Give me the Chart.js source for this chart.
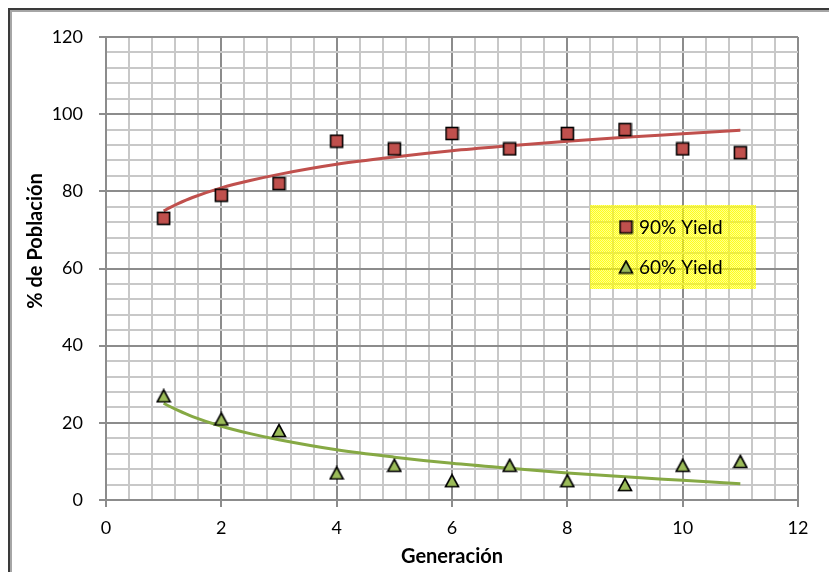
<!DOCTYPE html>
<html>
<head>
<meta charset="utf-8">
<script src="https://cdn.jsdelivr.net/npm/chart.js@4.4.1/dist/chart.umd.min.js"></script>
<style>
    body { margin: 0; background: #fff; }
    #wrap { width: 829px; height: 572px; }
</style>
</head>
<body>
<div id="wrap"><canvas id="yieldChart" width="829" height="572"></canvas></div>
<script>
// generation number and % of population per yield level
const generations = [1, 2, 3, 4, 5, 6, 7, 8, 9, 10, 11];
const yield90 = [73, 79, 82, 93, 91, 95, 91, 95, 96, 91, 90];
const yield60 = [27, 21, 18, 7, 9, 5, 9, 5, 4, 9, 10];

// log trend curves, sampled along x
const trendX = [1, 1.1, 1.25, 1.5, 2, 2.5, 3, 4, 5, 6, 7, 8, 9, 10, 11];
const trend90 = [74.9, 75.7, 76.8, 78.4, 80.9, 82.8, 84.4, 87.0, 88.9, 90.5, 91.8, 93.0, 94.0, 94.9, 95.8];
const trend60 = [25.1, 24.3, 23.2, 21.6, 19.1, 17.2, 15.6, 13.0, 11.1, 9.5, 8.2, 7.0, 6.0, 5.1, 4.2];

const xTickLabels = [0, 2, 4, 6, 8, 10, 12];
const yTickLabels = [0, 20, 40, 60, 80, 100, 120];
const seriesNames = ['90% Yield', '60% Yield'];

const RED = '#c0504d';
const GREEN = '#9bbb59';
const FONT = 'Lato, "Open Sans", sans-serif';

const toPoints = (xs, ys) => xs.map((x, i) => ({x: x, y: ys[i]}));
const isMajor = (v, list) => list.some(t => Math.abs(t - v) < 1e-6);

// marker images, so they sit centred on their value
function squareMarker() {
    const c = document.createElement('canvas');
    c.width = 15; c.height = 15;
    const g = c.getContext('2d');
    g.fillStyle = RED;
    g.fillRect(1.5, 1.5, 12, 12);
    g.lineWidth = 1.6;
    g.strokeStyle = '#000';
    g.strokeRect(1.5, 1.5, 12, 12);
    return c;
}
function triangleMarker() {
    const c = document.createElement('canvas');
    c.width = 16; c.height = 15;
    const g = c.getContext('2d');
    g.fillStyle = GREEN;
    g.strokeStyle = '#000';
    g.lineWidth = 1.6;
    g.lineJoin = 'miter';
    g.beginPath();
    g.moveTo(8, 1.5);
    g.lineTo(14.5, 13.5);
    g.lineTo(1.5, 13.5);
    g.closePath();
    g.fill();
    g.stroke();
    return c;
}
const squareImg = squareMarker();
const triangleImg = triangleMarker();

// outer frame of the chart object, plus the rotated y title
const framePlugin = {
    id: 'frame',
    beforeDraw(chart) {
        const ctx = chart.ctx;
        ctx.save();
        ctx.fillStyle = '#fff';
        ctx.fillRect(0, 0, chart.width, chart.height);
        ctx.strokeStyle = '#a6a6a6';
        ctx.lineWidth = 2;
        ctx.strokeRect(11, 11, 900, 700);
        ctx.strokeStyle = '#3a3a3a';
        ctx.strokeRect(9, 9, 900, 700);
        ctx.restore();
    },
    afterDraw(chart) {
        const ctx = chart.ctx;
        ctx.save();
        ctx.translate(36, 241);
        ctx.rotate(-Math.PI / 2);
        ctx.fillStyle = '#000';
        ctx.font = 'bold 20px ' + FONT;
        ctx.textAlign = 'center';
        ctx.textBaseline = 'middle';
        ctx.fillText('% de Población', 0, 0);
        ctx.restore();
    }
};

// yellow legend box sitting inside the plot
const legendBoxPlugin = {
    id: 'legendBox',
    afterDatasetsDraw(chart) {
        const ctx = chart.ctx;
        const pc = document.createElement('canvas');
        pc.width = 2; pc.height = 2;
        const p = pc.getContext('2d');
        p.fillStyle = 'rgba(255,255,0,0.45)';
        p.fillRect(0, 0, 2, 2);
        p.fillStyle = 'rgba(255,255,0,0.8)';
        p.fillRect(0, 0, 1, 1);
        p.fillRect(1, 1, 1, 1);

        ctx.save();
        ctx.fillStyle = ctx.createPattern(pc, 'repeat');
        ctx.fillRect(590, 205, 166, 84);

        ctx.drawImage(squareImg, 626 - 7.5, 227 - 7.5);
        ctx.drawImage(triangleImg, 626 - 8, 267 - 7.5);

        ctx.fillStyle = '#000';
        ctx.font = '19px ' + FONT;
        ctx.textBaseline = 'middle';
        ctx.fillText(seriesNames[0], 639, 228);
        ctx.fillText(seriesNames[1], 639, 268);
        ctx.restore();
    }
};

const gridColor = (ctx, list) => isMajor(ctx.tick.value, list) ? '#8c8c8c' : '#c8c8c8';

var ctx = document.getElementById('yieldChart').getContext('2d');
var myChart = new Chart(ctx, {
    type: 'scatter',
    data: {
        datasets: [{
            label: seriesNames[0],
            data: toPoints(generations, yield90),
            pointStyle: squareImg,
            pointRadius: 8
        }, {
            label: seriesNames[1],
            data: toPoints(generations, yield60),
            pointStyle: triangleImg,
            pointRadius: 8
        }, {
            label: 'trend 90',
            data: toPoints(trendX, trend90),
            showLine: true,
            pointRadius: 0,
            borderColor: RED,
            borderWidth: 3,
            cubicInterpolationMode: 'monotone'
        }, {
            label: 'trend 60',
            data: toPoints(trendX, trend60),
            showLine: true,
            pointRadius: 0,
            borderColor: '#86a944',
            borderWidth: 3,
            cubicInterpolationMode: 'monotone'
        }]
    },
    options: {
        responsive: false,
        animation: false,
        layout: {
            padding: {top: 37, right: 31, left: 0, bottom: 0}
        },
        plugins: {
            legend: {display: false},
            tooltip: {enabled: false}
        },
        scales: {
            x: {
                type: 'linear',
                min: 0,
                max: 12,
                afterFit: scale => { scale.height = 72; },
                ticks: {
                    stepSize: 0.4,
                    autoSkip: false,
                    maxRotation: 0,
                    padding: 10,
                    color: '#000',
                    font: {family: FONT, size: 18},
                    callback: v => isMajor(v, xTickLabels) ? Math.round(v) : ''
                },
                grid: {
                    color: c => gridColor(c, xTickLabels),
                    lineWidth: 2,
                    tickLength: 7,
                    tickColor: c => isMajor(c.tick.value, xTickLabels) ? '#8c8c8c' : 'rgba(0,0,0,0)'
                },
                border: {color: '#8c8c8c', width: 2},
                title: {
                    display: true,
                    text: 'Generación',
                    color: '#000',
                    font: {family: FONT, size: 20, weight: 'bold'},
                    padding: {top: 0, bottom: 3}
                }
            },
            y: {
                min: 0,
                max: 120,
                afterFit: scale => { scale.width = 106; },
                ticks: {
                    stepSize: 4,
                    autoSkip: false,
                    padding: 16,
                    color: '#000',
                    font: {family: FONT, size: 18},
                    callback: v => isMajor(v, yTickLabels) ? Math.round(v) : ''
                },
                grid: {
                    color: c => gridColor(c, yTickLabels),
                    lineWidth: 2,
                    tickLength: 7,
                    tickColor: c => isMajor(c.tick.value, yTickLabels) ? '#8c8c8c' : 'rgba(0,0,0,0)'
                },
                border: {color: '#8c8c8c', width: 2}
            }
        }
    },
    plugins: [framePlugin, legendBoxPlugin]
});
</script>
</body>
</html>
